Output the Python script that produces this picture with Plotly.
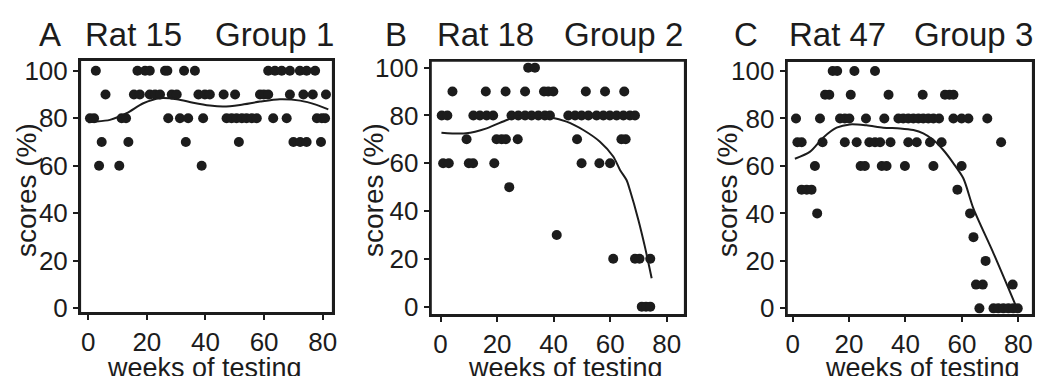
import plotly.graph_objects as go

# ---------------- data ----------------
# Panel A: Rat 15, Group 1
a_weeks = [2.6, 16.8, 19.4, 21.0, 26.2, 27.0, 32.7, 36.4, 61.4, 63.7, 66.0, 68.8, 72.2, 74.5, 77.4,
           5.9, 15.6, 17.6, 21.0, 22.8, 24.5, 28.5, 30.2, 37.6, 39.8, 41.5, 46.2, 50.1, 58.6, 59.9, 61.4,
           68.8, 73.4, 76.6, 81.1,
           0.6, 2.0, 11.4, 12.9, 27.3, 31.3, 34.1, 39.2, 47.2, 48.9, 50.6, 52.4, 54.0, 55.8, 57.5, 63.1,
           67.7, 78.0, 79.7, 80.8,
           4.6, 13.7, 33.3, 51.4, 70.0, 72.3, 74.5, 79.4,
           3.7, 10.6, 38.7]
a_scores = [100] * 15 + [90] * 20 + [80] * 20 + [70] * 8 + [60] * 3
a_fit_weeks = [0, 1.7, 7.4, 13.1, 18.8, 24.5, 30.2, 35.8, 41.5, 46.1, 51.8, 58.6, 65.4, 72.3, 77.9, 81.9]
a_fit_scores = [78.3, 78.5, 79.3, 82.1, 86.3, 88.4, 88.0, 86.5, 85.3, 84.9, 85.6, 87.0, 88.0, 87.4, 85.6, 83.7]

# Panel B: Rat 18, Group 2
b_weeks = [31.0, 33.4,
           4.2, 16.0, 23.0, 29.9, 36.6, 38.1, 39.9, 51.4, 58.2, 65.0,
           0.4, 2.4, 11.6, 13.9, 16.3, 18.6, 25.1, 27.5, 29.9, 32.2, 34.6, 36.9, 38.7,
           45.2, 47.6, 49.9, 52.3, 55.2, 57.6, 59.9, 62.3, 64.7, 67.0, 68.8,
           9.2, 19.8, 21.6, 23.1, 27.3, 48.3, 64.0, 65.5,
           0.9, 2.9, 10.0, 11.5, 19.0, 49.9, 56.2, 60.0,
           24.3,
           41.1,
           61.1, 68.8, 70.4, 74.2,
           71.2, 72.7, 74.2]
b_scores = ([100] * 2 + [90] * 10 + [80] * 24 + [70] * 8 + [60] * 8 + [50] + [30]
            + [20] * 4 + [0] * 3)
b_fit_weeks = [0.3, 9.0, 16.3, 23.4, 26.9, 32.8, 38.7, 44.6, 50.5, 56.4, 61.1, 63.5, 65.8, 67.0,
               70.0, 72.3, 74.7]
b_fit_scores = [72.8, 72.5, 74.6, 78.1, 79.5, 79.8, 79.2, 77.4, 73.9, 69.0, 62.8, 57.2, 53.0, 48.8,
                36.3, 25.1, 11.9]

# Panel C: Rat 47, Group 3
c_weeks = [14.2, 15.8, 21.9, 29.2,
           11.5, 13.0, 20.6, 34.0, 46.1, 54.0, 55.6, 57.0,
           1.2, 9.7, 16.8, 18.5, 20.1, 26.0, 32.5, 37.5, 39.2, 41.0, 42.8, 44.6, 46.3, 48.1, 49.9,
           51.9, 57.0, 59.9, 62.3, 69.0,
           1.7, 3.2, 10.6, 18.5, 22.7, 27.2, 29.2, 31.0, 34.7, 41.0, 44.0, 48.7, 52.8, 73.9,
           7.9, 24.1, 25.6, 31.6, 33.3, 39.8, 49.9, 59.9,
           3.2, 5.0, 6.7, 58.4,
           8.7, 62.9,
           64.1,
           68.4,
           65.0, 67.4, 78.0,
           66.2, 71.2, 72.9, 74.7, 76.5, 78.2, 79.8]
c_scores = ([100] * 4 + [90] * 8 + [80] * 20 + [70] * 14 + [60] * 8 + [50] * 4 + [40] * 2
            + [30] + [20] + [10] * 3 + [0] * 7)
c_fit_weeks = [0.8, 6.2, 10.9, 15.6, 20.3, 26.2, 32.1, 38.1, 42.8, 46.3, 49.9, 53.4, 57.0, 60.5,
               64.1, 71.2, 79.5]
c_fit_scores = [63.0, 66.0, 72.0, 76.1, 77.5, 77.1, 76.1, 75.8, 75.1, 73.7, 70.9, 66.7, 61.1, 54.8,
                42.0, 23.2, 0.0]

panel_letters = ["A", "B", "C"]
rat_labels = ["Rat 15", "Rat 18", "Rat 47"]
group_labels = ["Group 1", "Group 2", "Group 3"]
x_title = "weeks of testing"
y_title = "scores (%)"
tick_vals = [0, 20, 40, 60, 80, 100]

# ---------------- layout geometry (pixels) ----------------
W, H = 1038, 376
FONT = "Liberation Sans, Arial, Helvetica, sans-serif"
INK = "#1c1c1c"

panels = [
    dict(weeks=a_weeks, scores=a_scores, fw=a_fit_weeks, fs=a_fit_scores,
         box=(80, 333, 60, 313), xr=(-2.8, 83.5), yr=(-2.0, 104.5),
         tpos=(37, 83, 213), xt=204, yt=26),
    dict(weeks=b_weeks, scores=b_scores, fw=b_fit_weeks, fs=b_fit_scores,
         box=(430.7, 685, 60.7, 315), xr=(-3.5, 86.5), yr=(-3.5, 102.9),
         tpos=(383, 435, 562), xt=565, yt=373),
    dict(weeks=c_weeks, scores=c_scores, fw=c_fit_weeks, fs=c_fit_scores,
         box=(786.7, 1033, 61, 315), xr=(-2.1, 85.2), yr=(-2.8, 104.2),
         tpos=(732, 787, 912), xt=922, yt=727),
]

fig = go.Figure()
annotations = []
shapes = []
layout_axes = {}

for i, p in enumerate(panels):
    n = "" if i == 0 else str(i + 1)
    xa, ya = "x" + n, "y" + n
    fig.add_trace(go.Scatter(
        x=p["weeks"], y=p["scores"], mode="markers", xaxis=xa, yaxis=ya,
        marker=dict(size=10, color=INK, line=dict(width=0)), showlegend=False))
    fig.add_trace(go.Scatter(
        x=p["fw"], y=p["fs"], mode="lines", xaxis=xa, yaxis=ya,
        line=dict(color=INK, width=2, shape="spline", smoothing=0.8), showlegend=False))

    x0, x1, y0, y1 = p["box"]
    common = dict(showgrid=False, zeroline=False, showline=True, linecolor=INK, linewidth=2,
                  mirror=True, ticks="outside", ticklen=5, tickwidth=1.5, tickcolor=INK,
                  automargin=False,
                  tickfont=dict(family=FONT, size=26, color=INK))
    layout_axes["xaxis" + n] = dict(common, domain=[x0 / W, x1 / W], range=list(p["xr"]),
                                    tickvals=tick_vals[:5], anchor=ya, ticklabelstandoff=0)
    layout_axes["yaxis" + n] = dict(common, domain=[1 - y1 / H, 1 - y0 / H], range=list(p["yr"]),
                                    tickvals=tick_vals, anchor=xa, ticklabelstandoff=0)

    # frame around the plotting area
    shapes.append(dict(type="rect", xref=xa + " domain", yref=ya + " domain",
                       x0=0, x1=1, y0=0, y1=1, line=dict(color=INK, width=2.2),
                       fillcolor="rgba(0,0,0,0)", layer="above"))

    for txt, px in zip([panel_letters[i], rat_labels[i], group_labels[i]], p["tpos"]):
        annotations.append(dict(text=txt, x=px / W, y=1 - 34 / H, xref="paper", yref="paper",
                                xanchor="left", yanchor="middle", showarrow=False,
                                font=dict(family=FONT, size=33, color=INK)))
    annotations.append(dict(text=x_title, x=p["xt"] / W, y=1 - 368 / H, xref="paper",
                            yref="paper", xanchor="center", yanchor="middle", showarrow=False,
                            font=dict(family=FONT, size=27, color=INK)))
    annotations.append(dict(text=y_title, x=p["yt"] / W, y=1 - 190 / H, xref="paper",
                            yref="paper", xanchor="center", yanchor="middle", showarrow=False,
                            textangle=-90, font=dict(family=FONT, size=28, color=INK)))

fig.update_layout(
    width=W, height=H, margin=dict(l=0, r=0, t=0, b=0),
    paper_bgcolor="white", plot_bgcolor="white", template="none",
    annotations=annotations, shapes=shapes, **layout_axes)

fig.write_html("out.html", config={"displayModeBar": False},
               post_script="document.body.style.margin='0';document.body.style.overflow='hidden';")
